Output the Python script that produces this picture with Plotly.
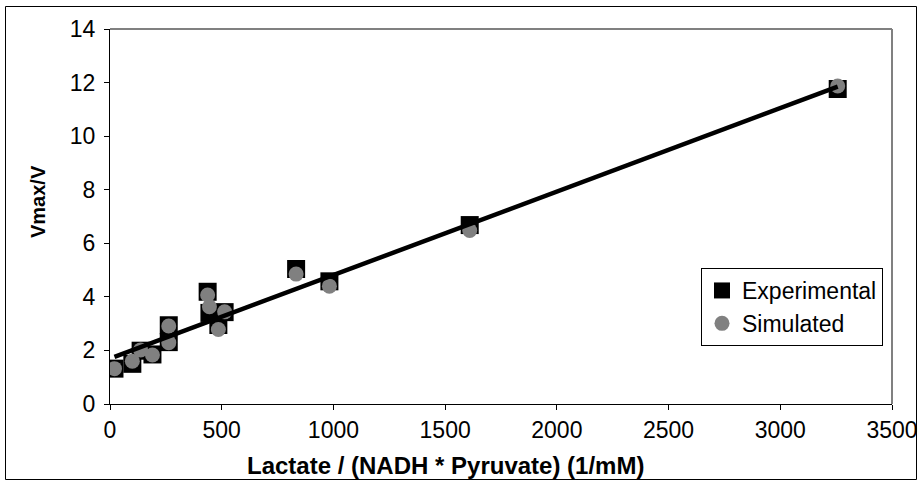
import plotly.graph_objects as go

# Data
x_vals = [20, 100, 137, 190, 263, 263, 437, 445, 485, 513, 833, 982, 1610, 3257]
exp_y = [1.32, 1.50, 1.99, 1.85, 2.94, 2.31, 4.19, 3.40, 2.95, 3.43, 5.04, 4.58, 6.68, 11.76]
sim_y = [1.32, 1.60, 2.02, 1.83, 2.91, 2.29, 4.07, 3.63, 2.78, 3.44, 4.85, 4.40, 6.48, 11.87]
trend_x = [20, 3257]
trend_y = [1.76, 11.85]

x_ticks = [0, 500, 1000, 1500, 2000, 2500, 3000, 3500]
y_ticks = [0, 2, 4, 6, 8, 10, 12, 14]

x_title = "Lactate / (NADH * Pyruvate) (1/mM)"
y_title = "Vmax/V"

FONT = "Liberation Sans, Arial, sans-serif"

fig = go.Figure()
fig.add_trace(go.Scatter(
    x=x_vals, y=exp_y, mode="markers", name="Experimental",
    marker=dict(symbol="square", size=18, color="black", line=dict(width=0)),
    legendgroup="a"))
fig.add_trace(go.Scatter(
    x=x_vals, y=sim_y, mode="markers", name="Simulated",
    marker=dict(symbol="circle", size=15, color="#808080", line=dict(width=0)),
    legendgroup="b"))
fig.add_trace(go.Scatter(
    x=trend_x, y=trend_y, mode="lines", showlegend=False,
    line=dict(color="black", width=4.5)))

L, R, T, B = 110, 892, 29, 404
W, H = 919, 483
pw, ph = R - L, B - T

def px(xp):
    return (xp - L) / pw

def py(yp):
    return (B - yp) / ph

fig.update_layout(
    width=W, height=H,
    margin=dict(l=L, r=W - R, t=T, b=H - B, pad=0, autoexpand=False),
    paper_bgcolor="white", plot_bgcolor="white",
    font=dict(family=FONT, size=23, color="black"),
    showlegend=True,
    legend=dict(
        x=px(701), y=py(268), xanchor="left", yanchor="top",
        bordercolor="black", borderwidth=1, bgcolor="white",
        font=dict(family=FONT, size=23, color="black"),
        traceorder="grouped", tracegroupgap=0,
        itemsizing="trace",
    ),
    xaxis=dict(
        range=[0, 3500], tickvals=x_ticks, ticktext=[str(v) for v in x_ticks],
        showgrid=False, zeroline=False, showline=True, linecolor="black", linewidth=1,
        ticks="outside", ticklen=5, tickcolor="black", automargin=False,
        tickfont=dict(family=FONT, size=23),
    ),
    yaxis=dict(
        range=[0, 14], tickvals=y_ticks, ticktext=[str(v) for v in y_ticks],
        showgrid=False, zeroline=False, showline=True, linecolor="black", linewidth=1,
        ticks="outside", ticklen=5, tickcolor="black", automargin=False,
        tickfont=dict(family=FONT, size=23),
        ticklabelstandoff=4,
    ),
    annotations=[
        dict(text="<b>" + x_title + "</b>", xref="paper", yref="paper",
             x=px(445), y=py(465), xanchor="center", yanchor="middle",
             showarrow=False, font=dict(family=FONT, size=24, color="black")),
        dict(text="<b>" + y_title + "</b>", xref="paper", yref="paper",
             x=px(38), y=py(202), xanchor="center", yanchor="middle", textangle=-90,
             showarrow=False, font=dict(family=FONT, size=20, color="black")),
    ],
    shapes=[
        dict(type="line", xref="paper", yref="paper", x0=0, x1=1, y0=1, y1=1,
             line=dict(color="#808080", width=2)),
        dict(type="line", xref="paper", yref="paper", x0=1, x1=1, y0=0, y1=1,
             line=dict(color="#808080", width=2)),
        dict(type="rect", xref="paper", yref="paper",
             x0=px(5.5), x1=px(916.5), y0=py(479.5), y1=py(6.5),
             line=dict(color="black", width=1)),
    ],
)

fig.write_html("out.html")
